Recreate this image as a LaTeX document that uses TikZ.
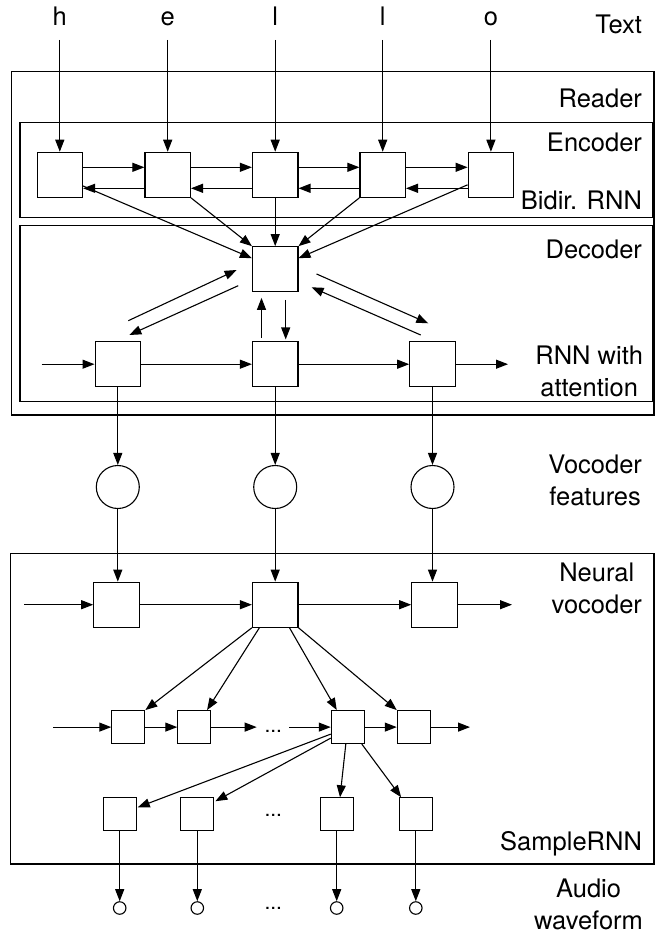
\documentclass[tikz,border=0pt]{standalone}
\usepackage{fontspec}
\setmainfont{TeX Gyre Heros}
\usetikzlibrary{arrows.meta,calc}

\begin{document}
\begin{tikzpicture}[x=1pt,y=-1pt, line width=1.1pt,
  box/.style={draw, minimum width=45.5pt, minimum height=45pt, inner sep=0pt},
  sbox/.style={draw, minimum width=33pt, minimum height=33pt, inner sep=0pt},
  feat/.style={draw, circle, minimum size=43pt, inner sep=0pt},
  smp/.style={draw, circle, minimum size=12.5pt, inner sep=0pt},
  frame/.style={draw},
  arr/.style={-{Triangle[length=12pt,width=9pt]}},
  lbl/.style={font=\fontsize{25.5}{32}\selectfont, inner sep=0pt},
  dots/.style={font=\fontsize{21}{21}\selectfont, inner sep=0pt, anchor=base}]

\useasboundingbox (0,0) rectangle (654,933);

% grouping frames
\draw[frame] (11.7,71.7) rectangle (654,415);
\draw[frame] (20,122.3) rectangle (652.5,217.3);
\draw[frame] (20,225.5) rectangle (652.5,401.7);
\draw[frame] (10.4,553.3) rectangle (654,864);

% side labels
\node[lbl, anchor=base east] (tText) at (642.5,33.3) {Text};
\node[lbl, anchor=base east] (tReader) at (642.5,108) {Reader};
\node[lbl, anchor=base east] (tEnc) at (642.5,152) {Encoder};
\node[lbl, anchor=base east] (tBidir) at (642.5,210) {Bidir. RNN};
\node[lbl, anchor=base east] (tDec) at (642.5,258) {Decoder};
\node[lbl, align=center, anchor=east] (tAttn) at (643.5,371) {RNN with\\attention};
\node[lbl, align=center, anchor=east] (tFeat) at (642.5,480.5) {Vocoder\\features};
\node[lbl, align=center, anchor=east] (tNeur) at (642.5,588) {Neural\\vocoder};
\node[lbl, anchor=base east] (tSamp) at (642.5,850) {SampleRNN};
\node[lbl, align=center, anchor=east] (tAudio) at (643.5,904) {Audio\\waveform};

% input characters
\node[lbl, anchor=base] (lh) at (59.8,26) {h};
\node[lbl, anchor=base] (le) at (167.7,26) {e};
\node[lbl, anchor=base] (ll) at (275.2,26) {l};
\node[lbl, anchor=base] (lL) at (382.7,26) {l};
\node[lbl, anchor=base] (lo) at (490.9,26) {o};

% encoder cells
\node[box] (e1) at (59.8,174.8) {};
\node[box] (e2) at (167.7,174.8) {};
\node[box] (e3) at (275.2,174.8) {};
\node[box] (e4) at (382.7,174.8) {};
\node[box] (e5) at (490.9,174.8) {};

\foreach \i/\l in {1/lh,2/le,3/ll,4/lL,5/lo}
  \draw[arr] ($(e\i.north |- \l.base)+(0,14)$) -- (e\i.north);

\foreach \a/\b in {1/2,2/3,3/4,4/5} {
  \draw[arr] ($(e\a.east)+(0,-7.5)$) -- ($(e\b.west)+(0,-7.5)$);
  \draw[arr] ($(e\b.west)+(0,13.5)$) -- ($(e\a.east)+(0,13.5)$);
}

% attention cell
\node[box] (att) at (275.2,269.2) {};
\draw[arr] ($(e1.east)+(0,11.2)$) -- ($(att.west)+(0,-11)$);
\draw[arr] (e2.south east) -- (att.north west);
\draw[arr] (e3.south) -- (att.north);
\draw[arr] (e4.south west) -- (att.north east);
\draw[arr] ($(e5.west)+(0,10)$) -- ($(att.east)+(0,-11)$);

% decoder RNN
\node[box] (d1) at (117.8,364.2) {};
\node[box] (d2) at (275.2,364.2) {};
\node[box] (d3) at (432.5,364.2) {};
\coordinate (din) at (41.7,364.2);
\coordinate (dout) at (508,364.2);
\draw[arr] (din) -- (d1);
\draw[arr] (d1) -- (d2);
\draw[arr] (d2) -- (d3);
\draw[arr] (d3) -- (dout);

% attention exchange
\draw[arr] ($(d1)+(10.5,-43.5)$) -- ($(att)+(-38.6,0.8)$);
\draw[arr] ($(att)+(-37,16.5)$) -- ($(d1)+(11.5,-29.2)$);
\draw[arr] ($(d2.north)+(-13.7,-3.4)$) -- ($(att.south)+(-13.7,5.6)$);
\draw[arr] ($(att.south)+(10.5,7.6)$) -- ($(d2.north)+(10.5,-1.7)$);
\draw[arr] ($(att)+(41.4,4.8)$) -- ($(d3)+(-4.2,-40.9)$);
\draw[arr] ($(d3)+(-11.8,-29.2)$) -- ($(att)+(36.4,18.1)$);

% vocoder features
\node[feat] (c1) at (117.8,487) {};
\node[feat] (c2) at (275.2,487) {};
\node[feat] (c3) at (432.5,487) {};
\draw[arr] (c1.north |- d1.south) -- (c1.north);
\draw[arr] (c2.north |- d2.south) -- (c2.north);
\draw[arr] (c3.north |- d3.south) -- (c3.north);

% neural vocoder frame level
\node[box] (v1) at (116.5,604.7) {};
\node[box] (v2) at (275.2,604.7) {};
\node[box] (v3) at (434.5,604.7) {};
\draw[arr] (c1.south) -- (c1.south |- v1.north);
\draw[arr] (c2.south) -- (c2.south |- v2.north);
\draw[arr] (c3.south) -- (c3.south |- v3.north);
\coordinate (vin) at (24.2,604.7);
\coordinate (vout) at (512,604.7);
\draw[arr] (vin) -- (v1);
\draw[arr] (v1) -- (v2);
\draw[arr] (v2) -- (v3);
\draw[arr] (v3) -- (vout);

% SampleRNN middle tier
\node[sbox] (s1) at (128.3,727.1) {};
\node[sbox] (s2) at (194.3,727.1) {};
\node[sbox] (s3) at (347.8,727.1) {};
\node[sbox] (s4) at (413.8,727.1) {};
\draw[arr] (v2.south west) -- (s1.north east);
\draw[arr] ($(v2.south west)+(7.5,0)$) -- ($(s2.north east)+(-4.3,0)$);
\draw[arr] ($(v2.south east)+(-9,0)$) -- ($(s3.north west)+(6,0)$);
\draw[arr] (v2.south east) -- (s4.north west);
\coordinate (sin) at (53.3,727.1);
\coordinate (sa) at (256.7,727.1);
\coordinate (sb) at (289.3,727.1);
\coordinate (sout) at (470,727.1);
\draw[arr] (sin) -- (s1);
\draw[arr] (s1) -- (s2);
\draw[arr] (s2) -- (sa);
\node[dots] (dA) at (273.3,732.5) {...};
\draw[arr] (sb) -- (s3);
\draw[arr] (s3) -- (s4);
\draw[arr] (s4) -- (sout);

% SampleRNN sample tier
\node[sbox] (t1) at (119.7,814.3) {};
\node[sbox] (t2) at (197.3,814.3) {};
\node[sbox] (t3) at (336.7,814.3) {};
\node[sbox] (t4) at (415.8,814.3) {};
\node[dots] (dB) at (273.3,816) {...};
\draw[arr] ($(s3.west)+(0,7)$) -- ($(t1.east)+(1,-7)$);
\draw[arr] ($(s3.west)+(0,11)$) -- ($(t2.north east)+(1,4)$);
\draw[arr] ($(s3.south)+(-2,0)$) -- ($(t3.north)+(3.3,0)$);
\draw[arr] ($(s3.south east)+(-3,0)$) -- ($(t4.north west)+(2.4,0)$);

% output samples
\node[smp] (o1) at (119.7,908) {};
\node[smp] (o2) at (197.3,908) {};
\node[smp] (o3) at (336.7,908) {};
\node[smp] (o4) at (415.8,908) {};
\node[dots] (dC) at (273.3,909) {...};
\foreach \i in {1,2,3,4}
  \draw[arr] (t\i.south) -- (o\i.north);

\end{tikzpicture}
\end{document}
